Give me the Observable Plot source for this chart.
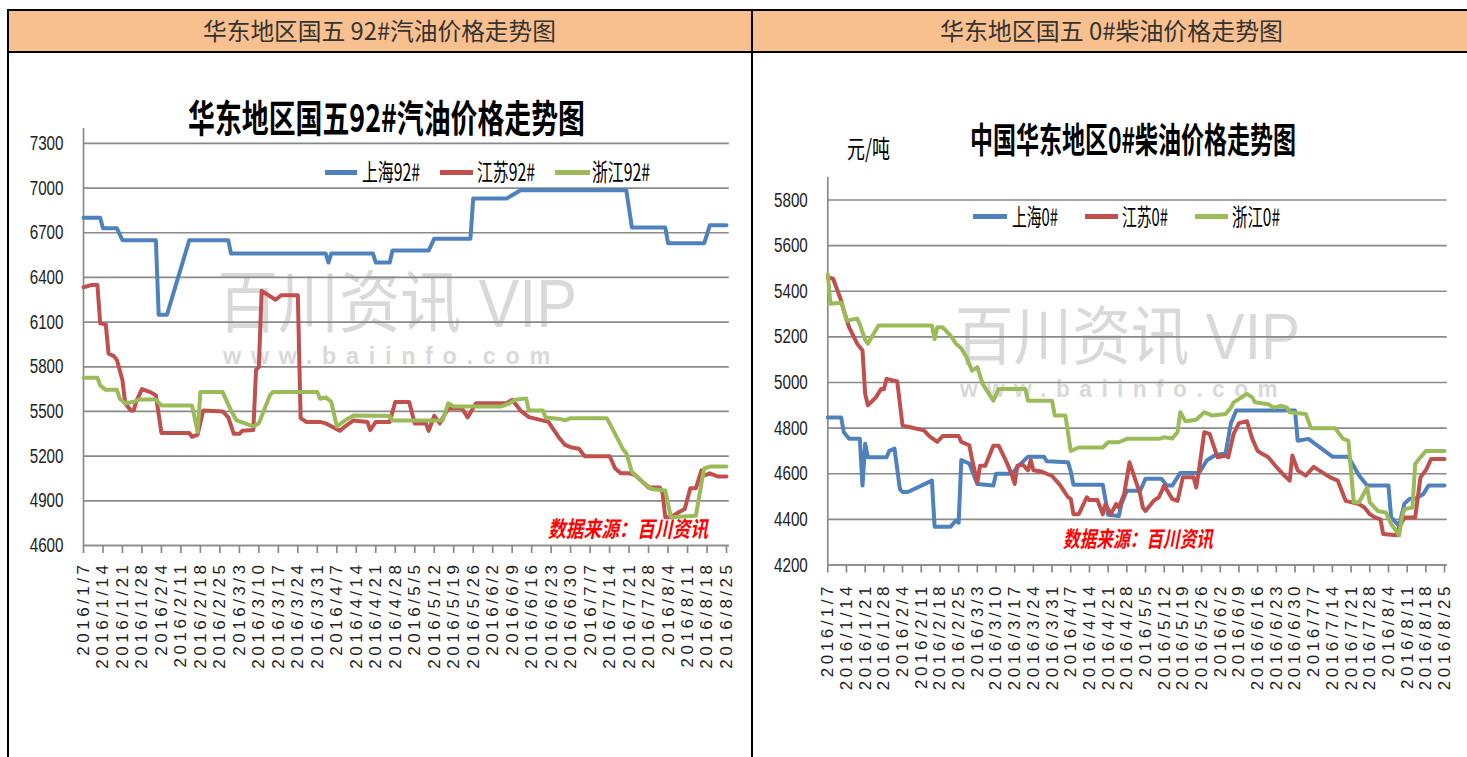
<!DOCTYPE html>
<html><head><meta charset="utf-8">
<style>
body{margin:0;background:#fff;}
#page{position:relative;width:1467px;height:757px;overflow:hidden;background:#fff;}
.abs{position:absolute;}
</style>
</head><body>
<div id="page"></div>
<script src="https://cdn.jsdelivr.net/npm/d3@7"></script>
<script src="https://cdn.jsdelivr.net/npm/@observablehq/plot@0.6"></script>
<script>
// ---------------- DATA ----------------
const tickLabels = ["1/7","1/14","1/21","1/28","2/4","2/11","2/18","2/25","3/3","3/10","3/17","3/24","3/31","4/7","4/14","4/21","4/28","5/5","5/12","5/19","5/26","6/2","6/9","6/16","6/23","6/30","7/7","7/14","7/21","7/28","8/4","8/11","8/18","8/25"];
const gasTicks = [4600,4900,5200,5500,5800,6100,6400,6700,7000,7300];
const dieselTicks = [4200,4400,4600,4800,5000,5200,5400,5600,5800];
const gasNames = ["上海92#","江苏92#","浙江92#"];
const dieselNames = ["上海0#","江苏0#","浙江0#"];

const sh92 = [["1/7",6800],["1/13",6800],["1/14",6730],["1/19",6730],["1/21",6650],["2/2",6650],["2/3",6150],["2/6",6150],["2/14",6650],["2/28",6650],["2/29",6560],["4/3",6560],["4/4",6500],["4/5",6560],["4/20",6560],["4/21",6500],["4/26",6500],["4/27",6580],["5/10",6580],["5/12",6660],["5/25",6660],["5/26",6930],["6/7",6930],["6/12",6985],["7/20",6985],["7/22",6735],["8/3",6735],["8/4",6630],["8/17",6630],["8/19",6750],["8/25",6750]];
const js92 = [["1/7",6334],["1/10",6350],["1/12",6350],["1/13",6092],["1/15",6085],["1/16",5889],["1/18",5870],["1/19",5845],["1/21",5710],["1/22",5554],["1/24",5506],["1/25",5506],["1/26",5570],["1/28",5650],["1/31",5630],["2/2",5608],["2/4",5355],["2/14",5355],["2/15",5330],["2/17",5345],["2/19",5506],["2/26",5500],["2/28",5460],["3/1",5350],["3/3",5350],["3/4",5370],["3/8",5375],["3/9",5780],["3/10",5800],["3/11",6310],["3/16",6250],["3/18",6280],["3/24",6280],["3/25",5455],["3/27",5430],["4/1",5430],["4/3",5420],["4/5",5400],["4/8",5370],["4/10",5400],["4/13",5440],["4/18",5430],["4/19",5375],["4/21",5430],["4/26",5430],["4/28",5564],["5/3",5564],["5/5",5420],["5/9",5420],["5/10",5370],["5/12",5470],["5/14",5420],["5/17",5520],["5/22",5520],["5/24",5460],["5/27",5555],["6/7",5555],["6/9",5578],["6/12",5506],["6/15",5462],["6/22",5430],["6/26",5320],["6/28",5275],["6/30",5260],["7/3",5250],["7/5",5200],["7/14",5200],["7/16",5117],["7/18",5085],["7/21",5085],["7/23",5075],["7/26",5025],["7/28",4990],["8/1",4990],["8/2",4955],["8/3",4790],["8/5",4790],["8/8",4825],["8/10",4845],["8/12",4985],["8/14",4985],["8/16",5105],["8/17",5070],["8/19",5085],["8/22",5063],["8/25",5063]];
const zj92 = [["1/7",5726],["1/12",5726],["1/13",5675],["1/15",5645],["1/19",5645],["1/20",5587],["1/22",5554],["1/25",5565],["1/27",5580],["2/2",5580],["2/4",5540],["2/15",5540],["2/17",5362],["2/18",5630],["2/26",5630],["2/29",5506],["3/2",5440],["3/5",5420],["3/8",5400],["3/10",5420],["3/14",5610],["3/15",5630],["3/31",5630],["4/1",5585],["4/3",5595],["4/5",5565],["4/7",5400],["4/10",5440],["4/13",5473],["4/26",5470],["4/27",5440],["5/15",5440],["5/17",5555],["5/19",5533],["6/5",5533],["6/8",5555],["6/10",5578],["6/14",5588],["6/15",5506],["6/20",5506],["6/21",5460],["6/26",5450],["6/28",5440],["6/30",5455],["7/13",5455],["7/19",5240],["7/20",5220],["7/22",5095],["7/26",5025],["7/29",4980],["8/3",4970],["8/5",4790],["8/14",4800],["8/16",5018],["8/17",5117],["8/19",5130],["8/25",5130]];

const sh0 = [["1/7",4847],["1/12",4847],["1/13",4782],["1/15",4753],["1/19",4753],["1/20",4548],["1/21",4732],["1/22",4672],["1/29",4672],["1/30",4700],["2/1",4710],["2/3",4533],["2/4",4520],["2/6",4520],["2/15",4570],["2/16",4368],["2/22",4368],["2/24",4395],["2/25",4385],["2/26",4660],["2/29",4645],["3/3",4555],["3/9",4548],["3/10",4600],["3/16",4600],["3/18",4630],["3/20",4652],["3/22",4675],["3/28",4675],["3/29",4655],["4/6",4650],["4/7",4610],["4/8",4552],["4/19",4552],["4/21",4420],["4/25",4415],["4/26",4467],["4/28",4526],["5/3",4526],["5/5",4578],["5/11",4578],["5/13",4548],["5/15",4548],["5/18",4603],["5/25",4603],["5/28",4659],["5/31",4681],["6/4",4690],["6/6",4822],["6/8",4877],["6/30",4877],["7/1",4745],["7/5",4753],["7/14",4675],["7/20",4675],["7/24",4592],["7/27",4548],["8/4",4548],["8/5",4409],["8/8",4372],["8/10",4470],["8/12",4490],["8/14",4490],["8/17",4510],["8/19",4548],["8/25",4548]];
const js0 = [["1/7",5461],["1/9",5455],["1/12",5359],["1/13",5315],["1/15",5242],["1/18",5170],["1/20",5140],["1/21",4950],["1/22",4900],["1/25",4935],["1/27",4972],["1/28",4970],["1/29",5016],["2/2",5005],["2/4",4811],["2/6",4806],["2/12",4790],["2/14",4765],["2/17",4740],["2/19",4765],["2/25",4765],["2/26",4740],["2/29",4725],["3/1",4665],["3/3",4562],["3/4",4635],["3/6",4635],["3/9",4723],["3/11",4723],["3/14",4650],["3/16",4592],["3/17",4555],["3/18",4635],["3/20",4640],["3/22",4615],["3/23",4660],["3/24",4615],["3/27",4610],["3/31",4590],["4/3",4550],["4/6",4497],["4/7",4490],["4/8",4423],["4/10",4423],["4/13",4497],["4/14",4485],["4/17",4485],["4/19",4422],["4/20",4467],["4/22",4423],["4/24",4467],["4/25",4452],["4/27",4511],["4/29",4650],["4/30",4615],["5/3",4511],["5/4",4452],["5/5",4437],["5/8",4481],["5/10",4497],["5/12",4548],["5/15",4490],["5/17",4481],["5/19",4585],["5/23",4585],["5/24",4540],["5/25",4615],["5/27",4782],["5/29",4775],["6/1",4672],["6/4",4680],["6/5",4672],["6/7",4775],["6/9",4822],["6/12",4830],["6/14",4753],["6/16",4700],["6/18",4685],["6/20",4672],["6/23",4630],["6/26",4592],["6/28",4570],["6/29",4680],["7/1",4615],["7/4",4592],["7/7",4630],["7/9",4615],["7/13",4585],["7/16",4570],["7/19",4481],["7/24",4467],["7/26",4452],["7/28",4423],["7/30",4408],["8/1",4400],["8/2",4336],["8/7",4330],["8/8",4365],["8/10",4408],["8/14",4408],["8/15",4497],["8/16",4585],["8/18",4615],["8/20",4665],["8/25",4665]];
const zj0 = [["1/7",5475],["1/8",5345],["1/12",5350],["1/13",5320],["1/14",5271],["1/18",5280],["1/19",5255],["1/21",5187],["1/22",5170],["1/26",5250],["2/15",5250],["2/16",5190],["2/17",5242],["2/19",5242],["2/22",5205],["2/24",5170],["2/26",5150],["2/28",5110],["3/1",5052],["3/3",5067],["3/5",4994],["3/7",4957],["3/9",4920],["3/11",4972],["3/21",4972],["3/22",4920],["3/31",4920],["4/1",4855],["4/5",4855],["4/7",4700],["4/10",4715],["4/19",4715],["4/21",4738],["4/25",4738],["4/28",4753],["5/10",4753],["5/12",4760],["5/15",4755],["5/17",4782],["5/18",4870],["5/20",4830],["5/24",4837],["5/27",4870],["5/30",4855],["6/4",4862],["6/6",4890],["6/7",4913],["6/10",4935],["6/12",4950],["6/14",4935],["6/15",4913],["6/20",4905],["6/22",4890],["6/25",4898],["6/27",4890],["6/28",4870],["7/4",4862],["7/6",4800],["7/15",4800],["7/18",4753],["7/20",4745],["7/22",4475],["7/24",4475],["7/27",4540],["7/28",4475],["7/31",4437],["8/3",4430],["8/5",4380],["8/8",4330],["8/9",4408],["8/10",4445],["8/13",4452],["8/14",4643],["8/16",4672],["8/18",4700],["8/25",4700]];

// ---------------- STYLE ----------------
const COLORS = ["#4F81BD","#C0504D","#9BBB59"];
const GRID = "#8a8a8a";
const CJK = '"Noto Sans CJK SC","Noto Sans",sans-serif';
const LATIN = '"Liberation Sans",Arial,sans-serif';
const MARK = '"Liberation Sans","Noto Sans CJK SC",sans-serif';
const page = document.getElementById("page");

const parse = s => { const [m, d] = s.split("/").map(Number); return new Date(Date.UTC(2016, m - 1, d)); };
const fmt = d => `2016/${d.getUTCMonth() + 1}/${d.getUTCDate()}`;
const weekTicks = tickLabels.map(parse);

function box(x, y, w, h, bg, z = 1) {
  const el = document.createElement("div");
  el.className = "abs";
  Object.assign(el.style, {left: x + "px", top: y + "px", width: w + "px", height: h + "px", background: bg, zIndex: z});
  page.appendChild(el);
  return el;
}

function label(text, o) {
  const el = document.createElement("div");
  el.className = "abs";
  el.textContent = text;
  Object.assign(el.style, {
    left: o.x + "px", top: o.y + "px", fontSize: o.size + "px", lineHeight: "1",
    whiteSpace: "nowrap", fontFamily: o.family || CJK, fontWeight: o.weight || 400,
    color: o.color || "#000", fontStyle: o.italic ? "italic" : "normal",
    transformOrigin: "0 0", zIndex: o.z || 4, letterSpacing: o.ls || "normal"
  });
  page.appendChild(el);
  if (o.w) {
    const w = el.getBoundingClientRect().width;
    el.style.transform = `scale(${o.w / w}, ${o.sy || 1})`;
  }
  return el;
}

// ---------------- TABLE FRAME ----------------
box(9, 11, 1458, 40, "#F8C08F", 1);
box(7, 9, 1460, 2, "#000", 2);
box(7, 51, 1460, 2, "#000", 2);
box(7, 9, 2, 748, "#000", 2);
box(751, 9, 2, 748, "#000", 2);
label("华东地区国五 92#汽油价格走势图", {x: 203, y: 18, size: 24, w: 353, color: "#333"});
label("华东地区国五 0#柴油价格走势图", {x: 940, y: 18, size: 24, w: 343, color: "#333"});

// ---------------- WATERMARKS ----------------
label("百川资讯 VIP", {x: 217, y: 269, size: 68, w: 360, color: "#d9d9d9", family: MARK, z: 1});
label("www.baiinfo.com", {x: 223, y: 344, size: 24, w: 337, color: "#d9d9d9", weight: 700, family: LATIN, ls: "10px", z: 1});
label("百川资讯 VIP", {x: 955, y: 305, size: 64, w: 345, color: "#d9d9d9", family: MARK, z: 1});
label("www.baiinfo.com", {x: 960, y: 377, size: 24, w: 327, color: "#d9d9d9", weight: 700, family: LATIN, ls: "10px", z: 1});

// ---------------- CHARTS ----------------
function makeChart(cfg) {
  const xDomain = [parse("1/7"), parse("8/26")];
  const plot = Plot.plot({
    width: cfg.width, height: cfg.height,
    marginLeft: cfg.ml, marginRight: cfg.mr, marginTop: cfg.mt, marginBottom: cfg.mb,
    style: {background: "transparent", overflow: "visible", color: "#222"},
    x: {type: "utc", domain: xDomain, label: null},
    y: {domain: cfg.yDomain, label: null},
    marks: [
      Plot.gridY(cfg.yTicks, {stroke: GRID, strokeOpacity: 1, strokeWidth: 1.7}),
      Plot.ruleX([xDomain[0]], {stroke: GRID, strokeWidth: 1.7}),
      Plot.ruleY([cfg.yDomain[0]], {stroke: GRID, strokeWidth: 1.7}),
      Plot.axisX(weekTicks, {tickFormat: fmt, tickRotate: -90, tickSize: 8, tickPadding: cfg.xPad, stroke: GRID, strokeWidth: 1.7, fill: "#222", fontSize: 17, fontFamily: LATIN, label: null}),
      Plot.axisY(cfg.yTicks, {tickFormat: d => String(d), tickSize: 0, tickPadding: 20, fill: "#222", fontSize: 20, fontFamily: LATIN, label: null}),
      ...cfg.series.map((s, i) => Plot.line(s, {x: d => parse(d[0]), y: d => d[1], stroke: COLORS[i], strokeWidth: 4, strokeLinejoin: "round", strokeLinecap: "round"}))
    ]
  });
  const wrap = document.createElement("div");
  wrap.className = "abs";
  Object.assign(wrap.style, {left: cfg.left + "px", top: cfg.top + "px", zIndex: 3});
  wrap.appendChild(plot);
  page.appendChild(wrap);
  plot.querySelectorAll('[aria-label="x-axis tick label"] text').forEach(t => t.setAttribute("letter-spacing", "3.5"));
  // narrow, tall digits on the y axis like the reference
  plot.querySelectorAll('[aria-label="y-axis tick label"] text').forEach(t => {
    const bb = t.getBBox();
    const ax = bb.x + bb.width, ay = bb.y + bb.height / 2;
    const old = t.getAttribute("transform") || "";
    t.setAttribute("transform", `${old} translate(${ax},${ay}) scale(0.76,1.02) translate(${-ax},${-ay})`);
  });
}

makeChart({left: 10, top: 60, width: 740, height: 680, ml: 73, mr: 21.2, mt: 68, mb: 195, xPad: 8,
  yDomain: [4600, 7400], yTicks: gasTicks, series: [sh92, js92, zj92]});
makeChart({left: 755, top: 60, width: 705, height: 680, ml: 72.3, mr: 13.3, mt: 116.7, mb: 175.5, xPad: 10,
  yDomain: [4200, 5900], yTicks: dieselTicks, series: [sh0, js0, zj0]});

// ---------------- TITLES / LEGENDS / NOTES ----------------
label("华东地区国五92#汽油价格走势图", {x: 188, y: 97, size: 38, w: 397, weight: 700});
label("中国华东地区0#柴油价格走势图", {x: 970, y: 120, size: 35, w: 326, weight: 700});
label("元/吨", {x: 847, y: 135, size: 25, w: 43});

function legend(names, lines, texts, y, ty) {
  names.forEach((n, i) => {
    box(lines[i][0], y - 2.5, lines[i][1] - lines[i][0], 5, COLORS[i], 4);
    label(n, {x: texts[i][0], y: ty, size: 24, w: texts[i][1] - texts[i][0]});
  });
}
legend(gasNames, [[325,357],[440,473],[555,590]], [[362,420],[477,535],[592,650]], 172, 159);
legend(dieselNames, [[973,1007],[1085,1118],[1195,1228]], [[1012,1058],[1122,1168],[1232,1280]], 216, 204);

label("数据来源：百川资讯", {x: 548, y: 516, size: 22, w: 160, weight: 700, italic: true, color: "#ff0000"});
label("数据来源：百川资讯", {x: 1063, y: 526, size: 22, w: 150, weight: 700, italic: true, color: "#ff0000"});
</script>
</body></html>
